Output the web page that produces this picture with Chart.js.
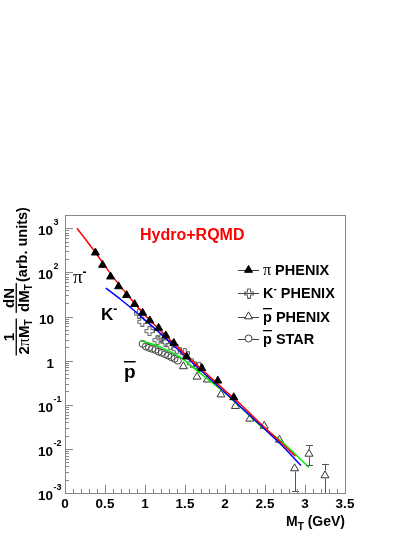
<!DOCTYPE html>
<html>
<head>
<meta charset="utf-8">
<title>Hydro+RQMD mT spectra</title>
<script src="https://cdn.jsdelivr.net/npm/chart.js@4.4.0/dist/chart.umd.min.js"></script>
<style>
    html, body { margin: 0; padding: 0; background: #ffffff; }
    canvas { display: block; }
</style>
</head>
<body>
<canvas id="spectra-chart" width="415" height="537"></canvas>
<script>
// Measured spectra (M_T in GeV, yield in arb. units)
const pionMt = [0.38, 0.47, 0.57, 0.67, 0.77, 0.87, 0.97, 1.06, 1.17, 1.26, 1.36, 1.52, 1.71, 1.91, 2.11];
const pionYield = [280, 147, 80, 48, 30.5, 19, 12.1, 8.1, 5.5, 3.7, 2.5, 1.23, 0.675, 0.35, 0.147];

const kaonMt = [0.92, 0.96, 1.05, 1.15, 1.20, 1.25, 1.31, 1.39, 1.49, 1.58, 1.67];
const kaonYield = [12, 7.8, 4.8, 3.0, 3.3, 2.75, 2.3, 1.87, 1.52, 0.89, 0.74];

const pbarPhenixMt = [1.48, 1.65, 1.78, 1.95, 2.13, 2.31, 2.49, 2.68, 2.87, 3.05, 3.25];
const pbarPhenixYield = [0.74, 0.43, 0.37, 0.17, 0.093, 0.048, 0.033, 0.016, 0.0036, 0.0077, 0.0025];
const pbarPhenixErrLow = [null, null, null, null, null, null, null, null, 0.0011, 0.0043, 0.0008];
const pbarPhenixErrHigh = [null, null, null, null, null, null, null, null, null, 0.0121, 0.0046];

const pbarStarMt = [0.97, 1.01, 1.05, 1.09, 1.13, 1.17, 1.21, 1.25, 1.29, 1.33, 1.37, 1.41];
const pbarStarYield = [2.4, 2.1, 1.95, 1.85, 1.75, 1.6, 1.5, 1.4, 1.3, 1.2, 1.1, 1.0];

// Hydro+RQMD model curves
const pionModelMt = [0.15, 0.38, 0.6, 0.8, 1.0, 1.2, 1.4, 1.6, 1.8, 2.0, 2.2, 2.44, 2.7, 2.88];
const pionModelYield = [1000, 282, 79, 28, 10.7, 4.7, 2.1, 0.95, 0.45, 0.21, 0.10, 0.038, 0.014, 0.0068];

const kaonModelMt = [0.51, 0.7, 0.875, 1.0, 1.2, 1.4, 1.625, 2.0, 2.44, 2.7, 2.95];
const kaonModelYield = [44, 24, 13.2, 8.3, 4.0, 1.86, 0.79, 0.19, 0.035, 0.0126, 0.0042];

const pbarModelMt = [0.95, 1.05, 1.2, 1.44, 1.7, 2.0, 2.44, 2.7, 3.05];
const pbarModelYield = [2.8, 2.5, 2.0, 1.2, 0.5, 0.186, 0.034, 0.015, 0.0038];

// Axis ticks
const xTickValues = [0, 0.5, 1, 1.5, 2, 2.5, 3, 3.5];
const xTickLabels = ['0', '0.5', '1', '1.5', '2', '2.5', '3', '3.5'];
const yTickValues = [1e-3, 1e-2, 1e-1, 1, 10, 1e2, 1e3];
const yTickBases = ['10', '10', '10', '1', '10', '10', '10'];
const yTickExps = ['-3', '-2', '-1', '', '', '2', '3'];

const SANS = '"Liberation Sans", Arial, Helvetica, sans-serif';
const SERIF = '"Liberation Serif", "Times New Roman", serif';

// Draw a row of differently styled text pieces: [text, font, dy]
function drawRuns(ctx, runs, x, y, align) {
    ctx.textAlign = 'left';
    let total = 0;
    runs.forEach(r => { ctx.font = r[1]; total += ctx.measureText(r[0]).width; });
    let cx = align === 'center' ? x - total / 2 : (align === 'right' ? x - total : x);
    runs.forEach(r => {
        ctx.font = r[1];
        ctx.fillText(r[0], cx, y + (r[2] || 0));
        cx += ctx.measureText(r[0]).width;
    });
    return total;
}

function makeOpenCross(color) {
    const c = document.createElement('canvas');
    c.width = 11;
    c.height = 11;
    const g = c.getContext('2d');
    const pts = [[4, 1], [7, 1], [7, 4], [10, 4], [10, 7], [7, 7], [7, 10], [4, 10], [4, 7], [1, 7], [1, 4], [4, 4]];
    g.strokeStyle = color;
    g.lineWidth = 1;
    g.beginPath();
    pts.forEach(([px, py], i) => i ? g.lineTo(px + 0.5, py + 0.5) : g.moveTo(px + 0.5, py + 0.5));
    g.closePath();
    g.stroke();
    return c;
}

function toPoints(xs, ys) {
    return xs.map((x, i) => ({ x: x, y: ys[i] }));
}

class SpectraChart {
    constructor() {
        this.crossImg = makeOpenCross('#555555');
        this.init();
    }

    init() {
        const self = this;
        const rootStyle = {
            id: 'rootStyle',
            afterDatasetsDraw(chart) {
                self.drawErrorBars(chart);
                self.drawFrame(chart);
            },
            afterDraw(chart) {
                self.drawTickLabels(chart);
                self.drawAxisTitles(chart);
                self.drawAnnotations(chart);
                self.drawLegend(chart);
            }
        };

        this.chart = new Chart(document.getElementById('spectra-chart'), {
            type: 'scatter',
            data: { datasets: this.buildDatasets() },
            options: {
                responsive: false,
                animation: false,
                devicePixelRatio: 1,
                layout: { padding: { left: 65, right: 70, top: 215, bottom: 44 } },
                scales: {
                    x: { type: 'linear', min: 0, max: 3.5, display: false },
                    y: { type: 'logarithmic', min: 0.001, max: 2000, display: false }
                },
                plugins: {
                    legend: { display: false },
                    tooltip: { enabled: false }
                }
            },
            plugins: [rootStyle]
        });
    }

    buildDatasets() {
        const model = (label, xs, ys, color) => ({
            label: label,
            data: toPoints(xs, ys),
            showLine: true,
            borderColor: color,
            borderWidth: 1.5,
            pointRadius: 0,
            cubicInterpolationMode: 'monotone',
            order: 1
        });

        // lower order is drawn on top: pions over the curves, curves over the rest
        this.markerStyles = [
            { label: 'pi', pointStyle: 'triangle', radius: 4.6, fill: '#000000', stroke: '#000000', order: 0 },
            { label: 'K', pointStyle: this.crossImg, radius: 5, fill: 'rgba(0,0,0,0)', stroke: '#555555', order: 2 },
            { label: 'pbar PHENIX', pointStyle: 'triangle', radius: 4.6, fill: 'rgba(0,0,0,0)', stroke: '#333333', order: 2 },
            { label: 'pbar STAR', pointStyle: 'circle', radius: 3.5, fill: 'rgba(0,0,0,0)', stroke: '#444444', order: 2 }
        ];
        const series = [
            toPoints(pionMt, pionYield),
            toPoints(kaonMt, kaonYield),
            toPoints(pbarPhenixMt, pbarPhenixYield),
            toPoints(pbarStarMt, pbarStarYield)
        ];
        const measured = this.markerStyles.map((m, i) => ({
            label: m.label,
            data: series[i],
            showLine: false,
            pointStyle: m.pointStyle,
            pointRadius: m.radius,
            pointBackgroundColor: m.fill,
            pointBorderColor: m.stroke,
            pointBorderWidth: 1,
            order: m.order
        }));

        return [
            model('pi model', pionModelMt, pionModelYield, '#ff0000'),
            model('K model', kaonModelMt, kaonModelYield, '#0000ff'),
            model('pbar model', pbarModelMt, pbarModelYield, '#00ee00')
        ].concat(measured);
    }

    drawFrame(chart) {
        const { ctx, chartArea: a, scales: { x, y } } = chart;
        ctx.save();
        ctx.strokeStyle = '#888888';
        ctx.lineWidth = 1;
        ctx.strokeRect(a.left + 0.5, a.top + 0.5, a.right - a.left, a.bottom - a.top);

        ctx.beginPath();
        // x ticks: labelled every 0.5, minor every 0.1
        for (let i = 0; i <= 35; i++) {
            const px = Math.round(x.getPixelForValue(i / 10)) + 0.5;
            const len = i % 5 === 0 ? 8 : 4;
            ctx.moveTo(px, a.bottom);
            ctx.lineTo(px, a.bottom - len);
        }
        // y ticks: decades and 2..9 in between
        for (let e = -3; e <= 3; e++) {
            for (let m = 1; m <= 9; m++) {
                const v = m * Math.pow(10, e);
                if (v > y.max) break;
                const py = Math.round(y.getPixelForValue(v)) + 0.5;
                const len = m === 1 ? 8 : 4;
                ctx.moveTo(a.left, py);
                ctx.lineTo(a.left + len, py);
            }
        }
        ctx.stroke();
        ctx.restore();
    }

    drawErrorBars(chart) {
        const { ctx, chartArea: a, scales: { x, y } } = chart;
        ctx.save();
        ctx.strokeStyle = '#555555';
        ctx.lineWidth = 1;
        ctx.beginPath();
        pbarPhenixMt.forEach((mt, i) => {
            const px = Math.round(x.getPixelForValue(mt)) + 0.5;
            const py = y.getPixelForValue(pbarPhenixYield[i]);
            if (pbarPhenixErrLow[i] !== null) {
                const yl = y.getPixelForValue(pbarPhenixErrLow[i]);
                ctx.moveTo(px, py + 3);
                ctx.lineTo(px, Math.min(yl, a.bottom));
                if (yl <= a.bottom) {
                    ctx.moveTo(px - 3.5, Math.round(yl) + 0.5);
                    ctx.lineTo(px + 3.5, Math.round(yl) + 0.5);
                }
            }
            if (pbarPhenixErrHigh[i] !== null) {
                const yh = y.getPixelForValue(pbarPhenixErrHigh[i]);
                ctx.moveTo(px, py - 5);
                ctx.lineTo(px, yh);
                ctx.moveTo(px - 3.5, Math.round(yh) + 0.5);
                ctx.lineTo(px + 3.5, Math.round(yh) + 0.5);
            }
        });
        ctx.stroke();
        ctx.restore();
    }

    drawTickLabels(chart) {
        const { ctx, scales: { x, y } } = chart;
        ctx.save();
        ctx.fillStyle = '#000000';
        xTickValues.forEach((v, i) => {
            drawRuns(ctx, [[xTickLabels[i], `bold 13.5px ${SANS}`]], x.getPixelForValue(v), 508, 'center');
        });
        yTickValues.forEach((v, i) => {
            const py = y.getPixelForValue(v);
            if (yTickExps[i]) {
                drawRuns(ctx, [[yTickBases[i], `bold 13.5px ${SANS}`]], 53, py + 7, 'right');
                drawRuns(ctx, [[yTickExps[i], `bold 9px ${SANS}`]], 53.5, py - 3, 'left');
            } else {
                drawRuns(ctx, [[yTickBases[i], `bold 13.5px ${SANS}`]], 54, py + 7, 'right');
            }
        });
        ctx.restore();
    }

    drawAxisTitles(chart) {
        const ctx = chart.ctx;
        const f15 = `bold 15px ${SANS}`;
        const sub = `bold 10px ${SANS}`;
        ctx.save();
        ctx.fillStyle = '#000000';

        // x title, right aligned to the axis end
        drawRuns(ctx, [['M', `bold 14px ${SANS}`], ['T', sub, 4], [' (GeV)', `bold 14px ${SANS}`]],
            chart.chartArea.right, 526, 'right');

        // y title, rotated; in this frame (u, v) lands on screen (v, -u)
        ctx.rotate(-Math.PI / 2);
        const fraction = (num, den, u) => {
            const wn = drawRuns(ctx, num, u, 13.5, 'center');
            const wd = drawRuns(ctx, den, u, 28.5, 'center');
            const w = Math.max(wn, wd) + 2;
            ctx.fillRect(u - w / 2, 15.6, w, 1.3);
        };
        fraction([['1', f15]], [['2', f15], ['π', `16px ${SERIF}`], ['M', f15], ['T', sub, 3]], -337);
        fraction([['dN', f15]], [['dM', f15], ['T', sub, 3]], -298);
        drawRuns(ctx, [['(arb. units)', `bold 14.5px ${SANS}`]], -282, 27, 'left');
        ctx.restore();
    }

    drawAnnotations(chart) {
        const ctx = chart.ctx;
        ctx.save();
        ctx.fillStyle = '#ff0000';
        drawRuns(ctx, [['Hydro+RQMD', `bold 16px ${SANS}`]], 140, 240, 'left');

        ctx.fillStyle = '#000000';
        drawRuns(ctx, [['π', `19px ${SERIF}`], ['-', `bold 12px ${SANS}`, -7]], 73, 283, 'left');
        drawRuns(ctx, [['K', `bold 17px ${SANS}`], ['-', `bold 12px ${SANS}`, -7]], 101, 320, 'left');
        const wp = drawRuns(ctx, [['p', `bold 19px ${SANS}`]], 124, 378, 'left');
        ctx.fillRect(124, 361, wp, 1.5);
        ctx.restore();
    }

    drawLegend(chart) {
        const ctx = chart.ctx;
        const bold = `bold 14.5px ${SANS}`;
        const rows = [
            [['π', `16px ${SERIF}`], [' PHENIX', bold]],
            [['K', bold], ['-', `bold 10px ${SANS}`, -6], [' PHENIX', bold]],
            [['p', bold], [' PHENIX', bold]],
            [['p', bold], [' STAR', bold]]
        ];
        const rowY = [270, 293, 316.5, 338.5];
        const helpers = Chart.helpers || {};

        ctx.save();
        rows.forEach((runs, i) => {
            const yc = rowY[i];
            const m = this.markerStyles[i];
            ctx.strokeStyle = '#444444';
            ctx.lineWidth = 1;
            ctx.beginPath();
            ctx.moveTo(238, Math.round(yc) + 0.5);
            ctx.lineTo(259, Math.round(yc) + 0.5);
            ctx.stroke();

            if (helpers.drawPoint) {
                ctx.fillStyle = m.fill === 'rgba(0,0,0,0)' ? '#ffffff' : m.fill;
                ctx.strokeStyle = m.stroke;
                helpers.drawPoint(ctx, { pointStyle: m.pointStyle, radius: m.radius, borderWidth: 1, rotation: 0 }, 248.5, yc);
            }

            ctx.fillStyle = '#000000';
            drawRuns(ctx, runs, 263, yc + 5, 'left');
            if (i >= 2) {
                ctx.font = bold;
                ctx.fillRect(263, yc - 8.5, ctx.measureText('p').width, 1.3);
            }
        });
        ctx.restore();
    }
}

document.addEventListener('DOMContentLoaded', () => {
    window.spectraChart = new SpectraChart();
});
</script>
</body>
</html>
